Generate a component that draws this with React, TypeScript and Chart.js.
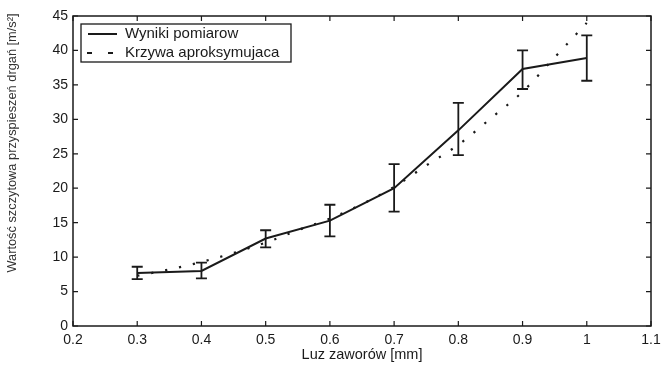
import React, { useEffect, useRef } from "react";
import { Chart, registerables } from "chart.js";

Chart.register(...registerables);

const clearance = [0.3, 0.4, 0.5, 0.6, 0.7, 0.8, 0.9, 1.0];
const measured = [7.7, 8.0, 12.7, 15.3, 20.0, 28.4, 37.3, 38.9];
const errLow = [6.8, 6.9, 11.4, 13.0, 16.6, 24.8, 34.4, 35.6];
const errHigh = [8.6, 9.2, 13.9, 17.6, 23.5, 32.4, 40.0, 42.2];

const fitX = [0.3, 0.35, 0.4, 0.45, 0.5, 0.55, 0.6, 0.65, 0.7, 0.75, 0.8, 0.85, 0.9, 0.95, 1.0];
const fitY = [7.3, 8.2, 9.3, 10.6, 12.1, 13.9, 15.6, 17.7, 20.2, 23.3, 26.3, 30.1, 34.0, 39.0, 44.0];

const xTicks = [0.2, 0.3, 0.4, 0.5, 0.6, 0.7, 0.8, 0.9, 1.0, 1.1];
const yTicks = [0, 5, 10, 15, 20, 25, 30, 35, 40, 45];

const seriesNames = ["Wyniki pomiarow", "Krzywa aproksymujaca"];
const xTitle = "Luz zaworów [mm]";
const yTitle = "Wartość szczytowa przyspieszeń drgań [m/s²]";

const FONT = "'Liberation Sans', Arial, sans-serif";
const INK = "#1a1a1a";

const framePlugin = {
  id: "frame",
  afterDatasetsDraw(chart: any) {
    const { ctx, chartArea: a, scales } = chart;
    const xs = scales.x;
    const ys = scales.y;
    ctx.save();
    // error bars
    ctx.strokeStyle = INK;
    ctx.lineWidth = 1.8;
    const cap = 5.5;
    clearance.forEach((cx, i) => {
      const px = xs.getPixelForValue(cx);
      const yl = ys.getPixelForValue(errLow[i]);
      const yh = ys.getPixelForValue(errHigh[i]);
      ctx.beginPath();
      ctx.moveTo(px, yl);
      ctx.lineTo(px, yh);
      ctx.moveTo(px - cap, yl);
      ctx.lineTo(px + cap, yl);
      ctx.moveTo(px - cap, yh);
      ctx.lineTo(px + cap, yh);
      ctx.stroke();
    });
    // frame
    ctx.lineWidth = 1.5;
    ctx.strokeRect(a.left, a.top, a.right - a.left, a.bottom - a.top);
    // inward ticks
    const tl = 5;
    ctx.lineWidth = 1.2;
    ctx.beginPath();
    xTicks.forEach((v) => {
      const px = xs.getPixelForValue(v);
      ctx.moveTo(px, a.bottom);
      ctx.lineTo(px, a.bottom - tl);
      ctx.moveTo(px, a.top);
      ctx.lineTo(px, a.top + tl);
    });
    yTicks.forEach((v) => {
      const py = ys.getPixelForValue(v);
      ctx.moveTo(a.left, py);
      ctx.lineTo(a.left + tl, py);
      ctx.moveTo(a.right, py);
      ctx.lineTo(a.right - tl, py);
    });
    ctx.stroke();
    // legend
    const lx = 81, ly = 24, lw = 210, lh = 38;
    ctx.fillStyle = "#fff";
    ctx.fillRect(lx, ly, lw, lh);
    ctx.lineWidth = 1.3;
    ctx.strokeStyle = INK;
    ctx.strokeRect(lx, ly, lw, lh);
    ctx.lineWidth = 2;
    ctx.beginPath();
    ctx.moveTo(88, 34);
    ctx.lineTo(117, 34);
    ctx.stroke();
    ctx.beginPath();
    ctx.moveTo(87, 53);
    ctx.lineTo(92, 53);
    ctx.moveTo(108, 53);
    ctx.lineTo(113, 53);
    ctx.stroke();
    ctx.fillStyle = INK;
    ctx.font = "15px " + FONT;
    ctx.textBaseline = "middle";
    ctx.textAlign = "left";
    ctx.fillText(seriesNames[0], 125, 34);
    ctx.fillText(seriesNames[1], 125, 53);
    // axis titles
    ctx.font = "14.5px " + FONT;
    ctx.textAlign = "center";
    ctx.fillText(xTitle, 362, 355);
    ctx.translate(12, 143);
    ctx.rotate(-Math.PI / 2);
    ctx.font = "12.8px " + FONT;
    ctx.fillStyle = "#333";
    ctx.fillText(yTitle, 0, 0);
    ctx.restore();
  },
};

export default function App() {
  const ref = useRef<HTMLCanvasElement | null>(null);
  useEffect(() => {
    document.body.style.margin = "0";
    const canvas = ref.current;
    if (!canvas) return;
    const chart = new Chart(canvas, {
      type: "line",
      data: {
        datasets: [
          {
            label: seriesNames[0],
            data: clearance.map((x, i) => ({ x, y: measured[i] })),
            borderColor: INK,
            borderWidth: 2,
            pointRadius: 0,
            tension: 0,
            fill: false,
          },
          {
            label: seriesNames[1],
            data: fitX.map((x, i) => ({ x, y: fitY[i] })),
            borderColor: INK,
            borderWidth: 2.2,
            borderDash: [2.2, 12],
            pointRadius: 0,
            cubicInterpolationMode: "monotone",
            fill: false,
          },
        ],
      },
      options: {
        animation: false,
        responsive: false,
        maintainAspectRatio: false,
        layout: { padding: { left: 0, right: 19, top: 16, bottom: 0 } },
        plugins: { legend: { display: false }, tooltip: { enabled: false } },
        scales: {
          x: {
            type: "linear",
            min: 0.2,
            max: 1.1,
            afterBuildTicks: (s: any) => {
              s.ticks = xTicks.map((v) => ({ value: v }));
            },
            afterFit: (s: any) => {
              s.height = 43;
            },
            grid: { display: false, drawTicks: false },
            border: { display: false },
            ticks: {
              padding: 6,
              color: INK,
              font: { family: FONT, size: 14 },
              callback: (v: any) => String(Number(Number(v).toFixed(1))),
            },
          },
          y: {
            type: "linear",
            min: 0,
            max: 45,
            afterBuildTicks: (s: any) => {
              s.ticks = yTicks.map((v) => ({ value: v }));
            },
            afterFit: (s: any) => {
              s.width = 73;
            },
            grid: { display: false, drawTicks: false },
            border: { display: false },
            ticks: {
              padding: 5,
              color: INK,
              font: { family: FONT, size: 14 },
            },
          },
        },
      },
      plugins: [framePlugin],
    } as any);
    return () => chart.destroy();
  }, []);
  return <canvas ref={ref} width={670} height={369} style={{ display: "block" }} />;
}
